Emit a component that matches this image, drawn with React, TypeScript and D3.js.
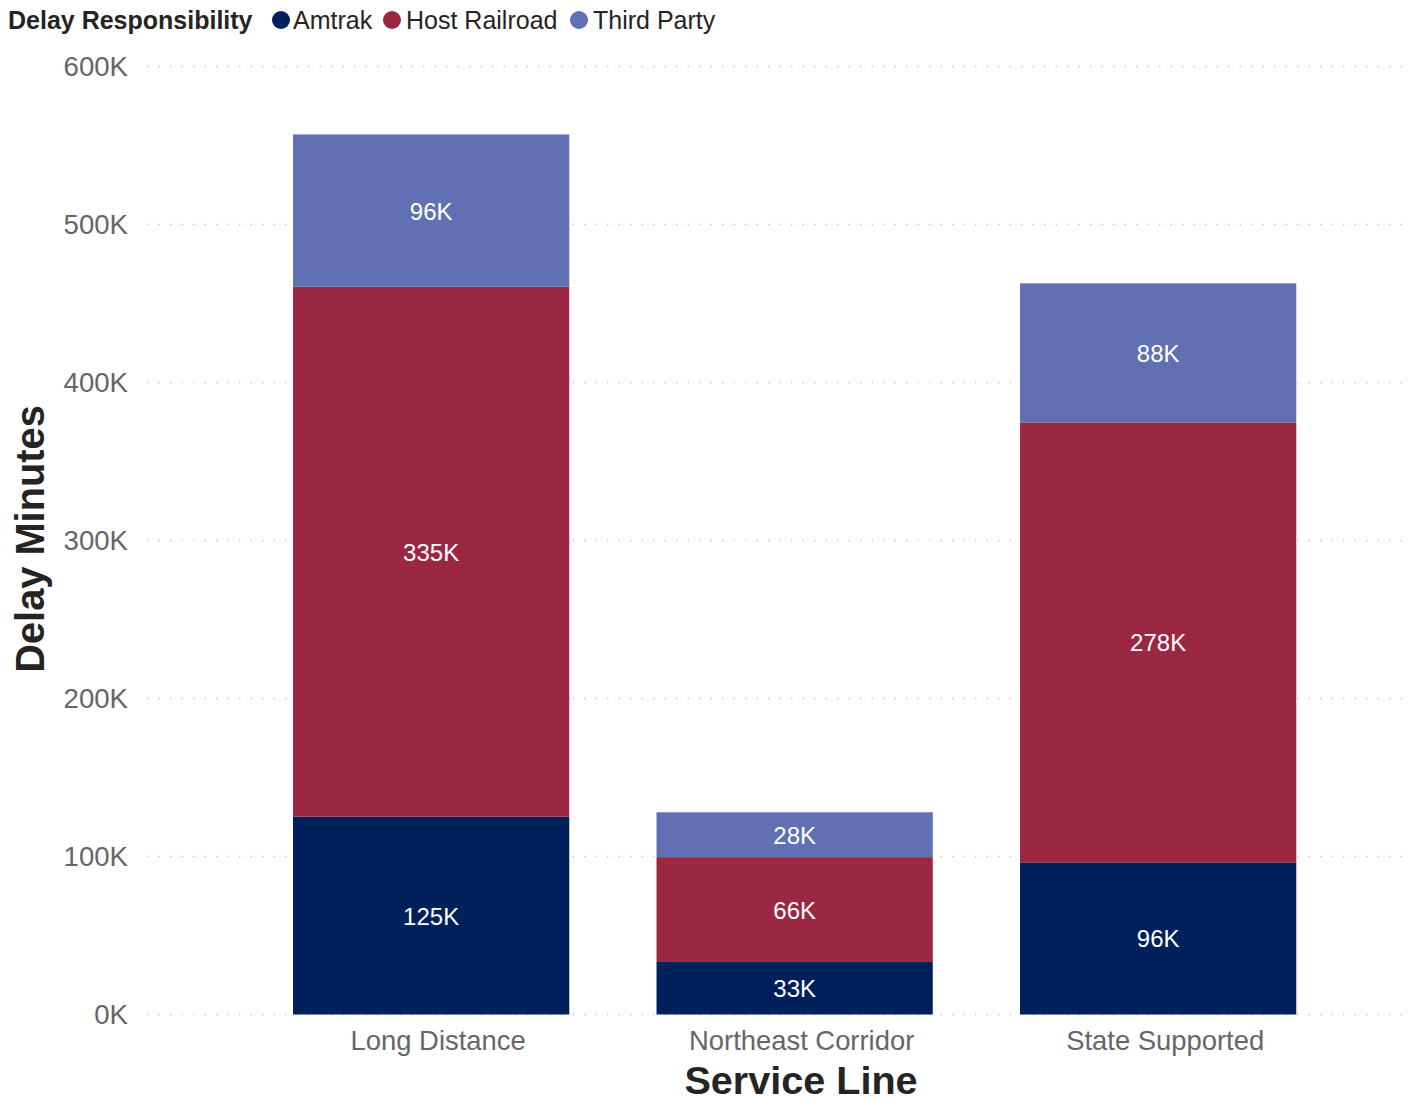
import React from "react";
import * as d3 from "d3";

const categories = ["Long Distance", "Northeast Corridor", "State Supported"];
const seriesNames = ["Amtrak", "Host Railroad", "Third Party"];
const amtrak = [125.2, 33.2, 96.3];
const hostRailroad = [335.4, 66.4, 278.45];
const thirdParty = [96.4, 28.4, 88.0];
const yTicks = [0, 100, 200, 300, 400, 500, 600];
const colors = ["#00205b", "#9b2743", "#6070b2"];

const W = 1413;
const H = 1102;

export default function App() {
  const rows = categories.map((c, i) => ({
    cat: c,
    Amtrak: amtrak[i],
    "Host Railroad": hostRailroad[i],
    "Third Party": thirdParty[i],
  }));
  const stack = d3.stack<any>().keys(seriesNames)(rows);

  const y = d3.scaleLinear().domain([0, 600]).range([1014.5, 66.5]);
  const x = d3
    .scaleBand()
    .domain(categories)
    .range([249.4, 1339.9])
    .paddingInner(0.24)
    .paddingOuter(0.12);

  const font = "Arial, 'Liberation Sans', sans-serif";
  const legendItems = [
    { name: "Amtrak", cx: 281, tx: 293 },
    { name: "Host Railroad", cx: 392, tx: 406 },
    { name: "Third Party", cx: 579, tx: 593 },
  ];

  return (
    <svg
      width={W}
      height={H}
      style={{ position: "absolute", left: 0, top: 0, background: "#fff" }}
      fontFamily={font}
    >
      {/* legend */}
      <text x={8} y={29} fontSize={25} fontWeight="bold" fill="#252423">
        Delay Responsibility
      </text>
      {legendItems.map((l, i) => (
        <g key={l.name}>
          <circle cx={l.cx} cy={20} r={9} fill={colors[i]} />
          <text x={l.tx} y={29} fontSize={25} fill="#252423">
            {l.name}
          </text>
        </g>
      ))}

      {/* gridlines and y ticks */}
      {yTicks.map((t) => (
        <g key={t}>
          <line
            x1={147}
            x2={1405}
            y1={y(t)}
            y2={y(t)}
            stroke="#c8c8c8"
            strokeWidth={1.5}
            strokeDasharray="1.5 10"
          />
          <text
            x={128}
            y={y(t) + 9.5}
            textAnchor="end"
            fontSize={27.6}
            fill="#666666"
          >
            {t}K
          </text>
        </g>
      ))}

      {/* bars */}
      {stack.map((s, si) => (
        <g key={s.key} fill={colors[si]}>
          {s.map((d, i) => (
            <rect
              key={i}
              x={x(categories[i])}
              width={x.bandwidth()}
              y={y(d[1])}
              height={y(d[0]) - y(d[1])}
            />
          ))}
        </g>
      ))}

      {/* labels */}
      {stack.map((s) =>
        s.map((d, i) => (
          <text
            key={s.key + i}
            x={(x(categories[i]) as number) + x.bandwidth() / 2}
            y={(y(d[0]) + y(d[1])) / 2 + 9}
            textAnchor="middle"
            fontSize={24}
            fill="#ffffff"
          >
            {Math.round(d[1] - d[0])}K
          </text>
        ))
      )}

      {/* category labels */}
      {categories.map((c) => (
        <text
          key={c}
          x={(x(c) as number) + x.bandwidth() / 2 + 7}
          y={1050}
          textAnchor="middle"
          fontSize={27.4}
          fill="#666666"
        >
          {c}
        </text>
      ))}

      {/* axis titles */}
      <text
        x={801}
        y={1094}
        textAnchor="middle"
        fontSize={39.6}
        fontWeight="bold"
        fill="#252423"
      >
        Service Line
      </text>
      <text
        transform="translate(44,539) rotate(-90)"
        textAnchor="middle"
        fontSize={39.8}
        fontWeight="bold"
        fill="#252423"
      >
        Delay Minutes
      </text>
    </svg>
  );
}
